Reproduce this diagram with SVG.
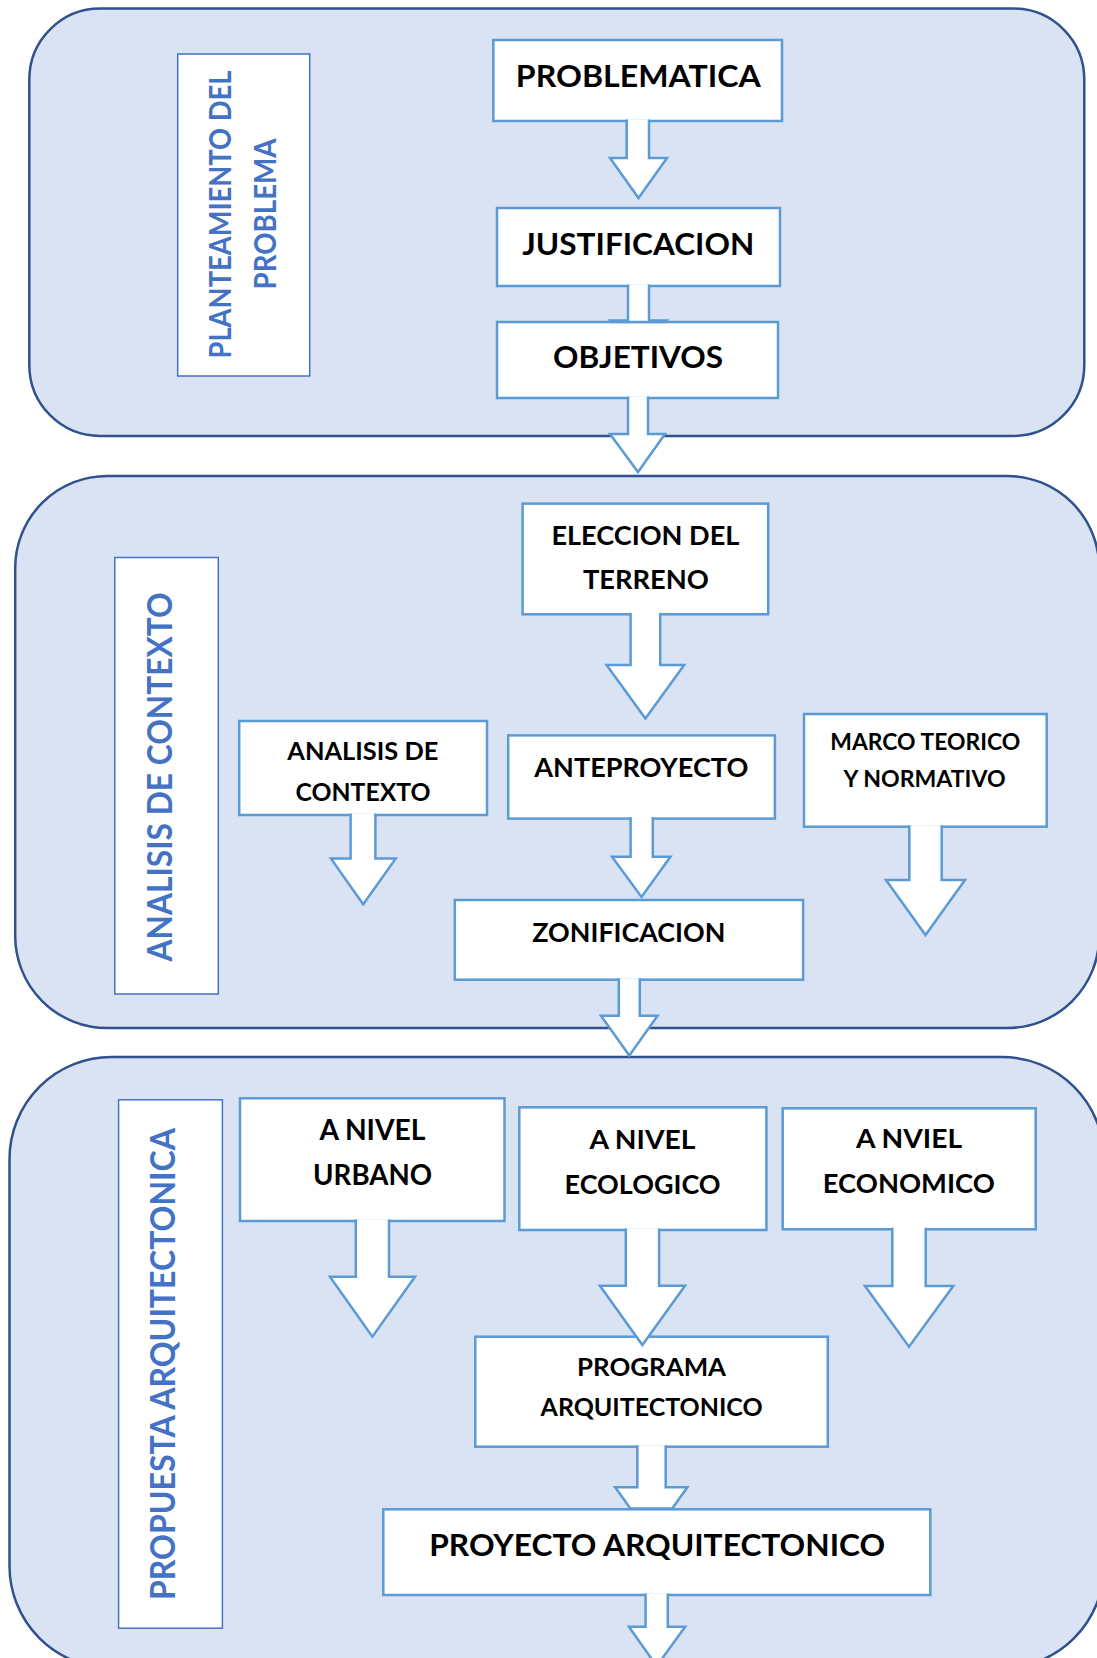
<svg xmlns="http://www.w3.org/2000/svg" width="1097" height="1658" viewBox="0 0 1097 1658">
<style>
.panel{fill:#DAE3F3;stroke:#2F528F;stroke-width:2.5}
.lbl{fill:#FFFFFF;stroke:#4472C4;stroke-width:1.5}
.lt{font-family:Lato,"Open Sans","Liberation Sans",sans-serif;font-weight:bold;fill:#4472C4;text-anchor:middle}
.box{fill:#FFFFFF;stroke:#5B9BD5;stroke-width:2.5}
.t{font-family:Lato,"Open Sans","Liberation Sans",sans-serif;font-weight:bold;fill:#000000;text-anchor:middle}
.arr{fill:#FFFFFF;stroke:#5B9BD5;stroke-width:2.5;stroke-linejoin:miter}
</style>
<rect width="1097" height="1658" fill="#FFFFFF"/>
<g id="panels">
  <rect id="panel-planteamiento" class="panel" x="29.3" y="8.5" width="1055" height="427.5" rx="71" ry="71"/>
  <rect id="panel-analisis" class="panel" x="15.2" y="476" width="1084" height="552" rx="92" ry="92"/>
  <rect id="panel-propuesta" class="panel" x="9.5" y="1057" width="1094.5" height="611" rx="102" ry="102"/>
</g>
<g id="labels">
  <g id="label-planteamiento">
    <rect class="lbl" x="177.7" y="54" width="132" height="322"/>
    <text class="lt" font-size="30" transform="translate(230.5,214.5) rotate(-90)" textLength="288" lengthAdjust="spacingAndGlyphs">PLANTEAMIENTO DEL</text>
    <text class="lt" font-size="30" transform="translate(275.8,214) rotate(-90)" textLength="151" lengthAdjust="spacingAndGlyphs">PROBLEMA</text>
  </g>
  <g id="label-analisis">
    <rect class="lbl" x="114.8" y="557.5" width="103.5" height="436.5"/>
    <text class="lt" font-size="35" transform="translate(171.7,777) rotate(-90)" textLength="369" lengthAdjust="spacingAndGlyphs">ANALISIS DE CONTEXTO</text>
  </g>
  <g id="label-propuesta">
    <rect class="lbl" x="118.6" y="1099.8" width="103.8" height="528.4"/>
    <text class="lt" font-size="34" transform="translate(175.3,1364) rotate(-90)" textLength="472" lengthAdjust="spacingAndGlyphs">PROPUESTA ARQUITECTONICA</text>
  </g>
</g>
<g id="nodes">
  <g id="problematica">
    <rect class="box" x="493.3" y="40" width="288.7" height="81"/>
    <text class="t" font-size="30" x="638.3" y="86.7" textLength="245" lengthAdjust="spacingAndGlyphs">PROBLEMATICA</text>
  </g>
  <g id="justificacion">
    <rect class="box" x="497" y="208" width="283" height="78"/>
    <text class="t" font-size="30" x="638.3" y="254.5" textLength="232" lengthAdjust="spacingAndGlyphs">JUSTIFICACION</text>
  </g>
  <g id="objetivos">
    <rect class="box" x="497" y="322" width="281" height="76"/>
    <text class="t" font-size="30" x="638" y="368" textLength="170" lengthAdjust="spacingAndGlyphs">OBJETIVOS</text>
  </g>
  <g id="eleccion">
    <rect class="box" x="522.6" y="503.6" width="245.6" height="110.7"/>
    <text class="t" font-size="27" x="645.4" y="545.4" textLength="188" lengthAdjust="spacingAndGlyphs">ELECCION DEL</text>
    <text class="t" font-size="27" x="645.9" y="589.3" textLength="126" lengthAdjust="spacingAndGlyphs">TERRENO</text>
  </g>
  <g id="analisis-contexto">
    <rect class="box" x="239.2" y="721" width="247.8" height="94"/>
    <text class="t" font-size="24" x="362.8" y="759.6" textLength="151" lengthAdjust="spacingAndGlyphs">ANALISIS DE</text>
    <text class="t" font-size="24" x="363" y="800.7" textLength="135" lengthAdjust="spacingAndGlyphs">CONTEXTO</text>
  </g>
  <g id="anteproyecto">
    <rect class="box" x="508.2" y="735.4" width="266.7" height="83.2"/>
    <text class="t" font-size="27" x="641.3" y="776.8" textLength="214" lengthAdjust="spacingAndGlyphs">ANTEPROYECTO</text>
  </g>
  <g id="zonificacion">
    <rect class="box" x="454.8" y="900" width="348.3" height="79.7"/>
    <text class="t" font-size="27" x="628.8" y="941.8" textLength="193" lengthAdjust="spacingAndGlyphs">ZONIFICACION</text>
  </g>
  <g id="marco">
    <rect class="box" x="804" y="714" width="242.7" height="112.7"/>
    <text class="t" font-size="23" x="925.3" y="750" textLength="190" lengthAdjust="spacingAndGlyphs">MARCO TEORICO</text>
    <text class="t" font-size="23" x="924.6" y="786.7" textLength="162" lengthAdjust="spacingAndGlyphs">Y NORMATIVO</text>
  </g>
  <g id="nivel-urbano">
    <rect class="box" x="240" y="1098.3" width="264.5" height="122.7"/>
    <text class="t" font-size="28" x="372.4" y="1140" textLength="106" lengthAdjust="spacingAndGlyphs">A NIVEL</text>
    <text class="t" font-size="28" x="372.6" y="1185" textLength="119" lengthAdjust="spacingAndGlyphs">URBANO</text>
  </g>
  <g id="nivel-ecologico">
    <rect class="box" x="519.3" y="1107.3" width="247.1" height="122.7"/>
    <text class="t" font-size="27" x="642.4" y="1149" textLength="106" lengthAdjust="spacingAndGlyphs">A NIVEL</text>
    <text class="t" font-size="27" x="642.6" y="1194" textLength="156" lengthAdjust="spacingAndGlyphs">ECOLOGICO</text>
  </g>
  <g id="nivel-economico">
    <rect class="box" x="782.7" y="1108.3" width="253" height="121"/>
    <text class="t" font-size="27" x="909.1" y="1148.3" textLength="106" lengthAdjust="spacingAndGlyphs">A NVIEL</text>
    <text class="t" font-size="27" x="908.8" y="1193.3" textLength="172" lengthAdjust="spacingAndGlyphs">ECONOMICO</text>
  </g>
  <g id="programa">
    <rect class="box" x="475.3" y="1336.7" width="352.5" height="110"/>
    <text class="t" font-size="24" x="651.6" y="1375.7" textLength="149" lengthAdjust="spacingAndGlyphs">PROGRAMA</text>
    <text class="t" font-size="24" x="651.6" y="1415.7" textLength="222" lengthAdjust="spacingAndGlyphs">ARQUITECTONICO</text>
  </g>
  <g id="proyecto">
    <rect class="box" x="383.3" y="1509.3" width="547" height="85.7"/>
    <text class="t" font-size="31" x="657.2" y="1556" textLength="456" lengthAdjust="spacingAndGlyphs">PROYECTO ARQUITECTONICO</text>
  </g>
</g>
<g id="connectors">
  <path class="arr" d="M626.7,119.5 V158 H610 L638.5,198 L667,158 H649 V119.5"/>
  <path class="arr" d="M628,284.5 V320.5 H610 L611,322 H666 L667,320.5 H649 V284.5"/>
  <path class="arr" d="M628,396.5 V434 H610 L638,472 L665,434 H648 V396.5"/>
  <path class="arr" d="M630.6,612.8 V665 H606.6 L645.4,718.6 L684.2,665 H660.2 V612.8"/>
  <path class="arr" d="M350.6,813.5 V858.6 H331 L363.2,904.3 L395.7,858.6 H375.4 V813.5"/>
  <path class="arr" d="M630.6,817 V856.8 H612 L641.5,897 L670.5,856.8 H652.8 V817"/>
  <path class="arr" d="M618.8,978.2 V1015.7 H601 L629.3,1055.5 L657.6,1015.7 H639.8 V978.2"/>
  <path class="arr" d="M909.3,825.2 V880 H886 L925.5,935 L965,880 H941.7 V825.2"/>
  <path class="arr" d="M355.8,1219.5 V1276.7 H329.9 L372.4,1336.7 L415,1276.7 H389 V1219.5"/>
  <path class="arr" d="M625.8,1228.5 V1285.7 H599.9 L642.4,1345 L685,1285.7 H659.1 V1228.5"/>
  <path class="arr" d="M892.3,1227.8 V1286 H865 L909,1346.7 L953.3,1286 H925.7 V1227.8"/>
  <path class="arr" d="M637.3,1445.2 V1487.3 H615.2 L630.4,1508.5 H672.2 L687.4,1487.3 H665.7 V1445.2"/>
  <path class="arr" d="M645.6,1593.5 V1626.7 H628.9 L656.7,1666 L685.2,1626.7 H667.8 V1593.5"/>
</g>
</svg>
